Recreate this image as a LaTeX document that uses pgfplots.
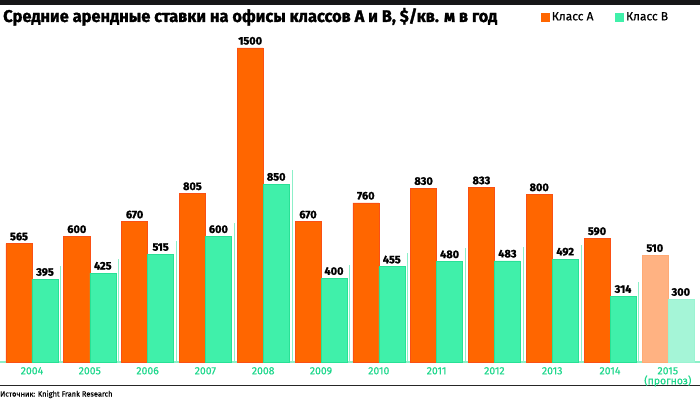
\documentclass[border=0pt]{standalone}
\usepackage{fontspec}
\setmainfont{Fira Sans}
\newfontfamily\heavy[BoldFeatures={FakeBold=1.6}]{Fira Sans}
\newfontfamily\medium[FakeBold=0.6]{Fira Sans}
\usepackage{pgfplots}
\pgfplotsset{compat=1.18}
\definecolor{orA}{RGB}{255,102,0}
\definecolor{orAedge}{RGB}{250,80,20}
\definecolor{grB}{RGB}{64,240,170}
\definecolor{grBedge}{RGB}{40,225,150}
\definecolor{orAl}{RGB}{255,178,130}
\definecolor{grBl}{RGB}{165,245,215}
\definecolor{sepg}{RGB}{140,240,200}
\definecolor{tickg}{RGB}{30,215,140}
\definecolor{topbar}{RGB}{22,22,24}
\begin{document}
\begin{tikzpicture}
\useasboundingbox (0,0) rectangle (700bp,399bp);
\fill[topbar] (0,394bp) rectangle (700bp,399bp);
\node[anchor=base west, inner sep=0pt] at (3bp,377bp) {\resizebox{494bp}{\height}{\heavy\bfseries\fontsize{17}{17}\selectfont Средние арендные ставки на офисы классов A и B, \$/кв. м в год}};
\draw[sepg, line width=1.2bp] (0,37bp) -- (700bp,37bp);
\draw[black!85, line width=1bp] (0,13bp) -- (700bp,13bp);
\node[anchor=base west, inner sep=0pt] at (0bp,2.5bp) {\medium\fontsize{7.5}{7.5}\selectfont Источник: Knight Frank Research};
\begin{axis}[
  at={(0bp,37bp)}, anchor=south west,
  scale only axis, width=700bp, height=314bp,
  xmin=-0.5536, xmax=11.557, ymin=0, ymax=1500,
  clip=false,
  axis line style={draw=none},
  major tick length=0pt,
  ytick=\empty,
  xtick={0,...,11},
  xticklabels={2004,2005,2006,2007,2008,2009,2010,2011,2012,2013,2014,{2015\\(прогноз)}},
  xticklabel style={font=\medium\fontsize{10.5}{10}\selectfont, text=tickg, align=center, anchor=north, inner sep=0pt, yshift=-5bp},
  /pgf/number format/1000 sep={},
  /pgf/number format/assume math mode=true,
  nodes near coords style={font=\heavy\bfseries\fontsize{11}{11}\selectfont, text=black, anchor=south, inner sep=0pt, yshift=3bp},
  legend style={at={(0.7729,1.0987)}, anchor=west, draw=none, fill=none, inner sep=0pt,
    legend columns=2, font=\medium\fontsize{12}{12}\selectfont,
    /tikz/every even column/.append style={column sep=20bp}},
]
\addplot[ybar, bar width=26bp, bar shift=-13bp, fill=orA, draw=orAedge, line width=0.6bp, nodes near coords,
  every node near coord/.append style={xshift=-13bp},
  legend image code/.code={\fill[orA] (0bp,-4bp) rectangle (8bp,4bp);}]
  coordinates {(0,565) (1,600) (2,670) (3,805) (4,1500) (5,670) (6,760) (7,830) (8,833) (9,800) (10,590)};
\addlegendentry{Класс A}
\addplot[ybar, bar width=26bp, bar shift=13bp, fill=grB, draw=grBedge, line width=0.6bp, nodes near coords,
  every node near coord/.append style={xshift=13bp},
  legend image code/.code={\fill[grB] (0bp,-4bp) rectangle (8bp,4bp);}]
  coordinates {(0,395) (1,425) (2,515) (3,600) (4,850) (5,400) (6,455) (7,480) (8,483) (9,492) (10,314)};
\addlegendentry{Класс B}
\addplot[ybar, bar width=26bp, bar shift=-13bp, fill=orAl, draw=orAl!90!orA, line width=0.6bp, nodes near coords,
  every node near coord/.append style={xshift=-13bp}, forget plot]
  coordinates {(11,510)};
\addplot[ybar, bar width=26bp, bar shift=13bp, fill=grBl, draw=grBl!90!grB, line width=0.6bp, nodes near coords,
  every node near coord/.append style={xshift=13bp}, forget plot]
  coordinates {(11,300)};
\addplot[ycomb, draw=sepg, line width=1bp, mark=none, forget plot]
  coordinates {(0.5,460) (1.5,490) (2.5,580) (3.5,665) (4.5,915) (5.5,465) (6.5,520) (7.5,545) (8.5,548) (9.5,557) (10.5,380)};
\end{axis}
\end{tikzpicture}
\end{document}
